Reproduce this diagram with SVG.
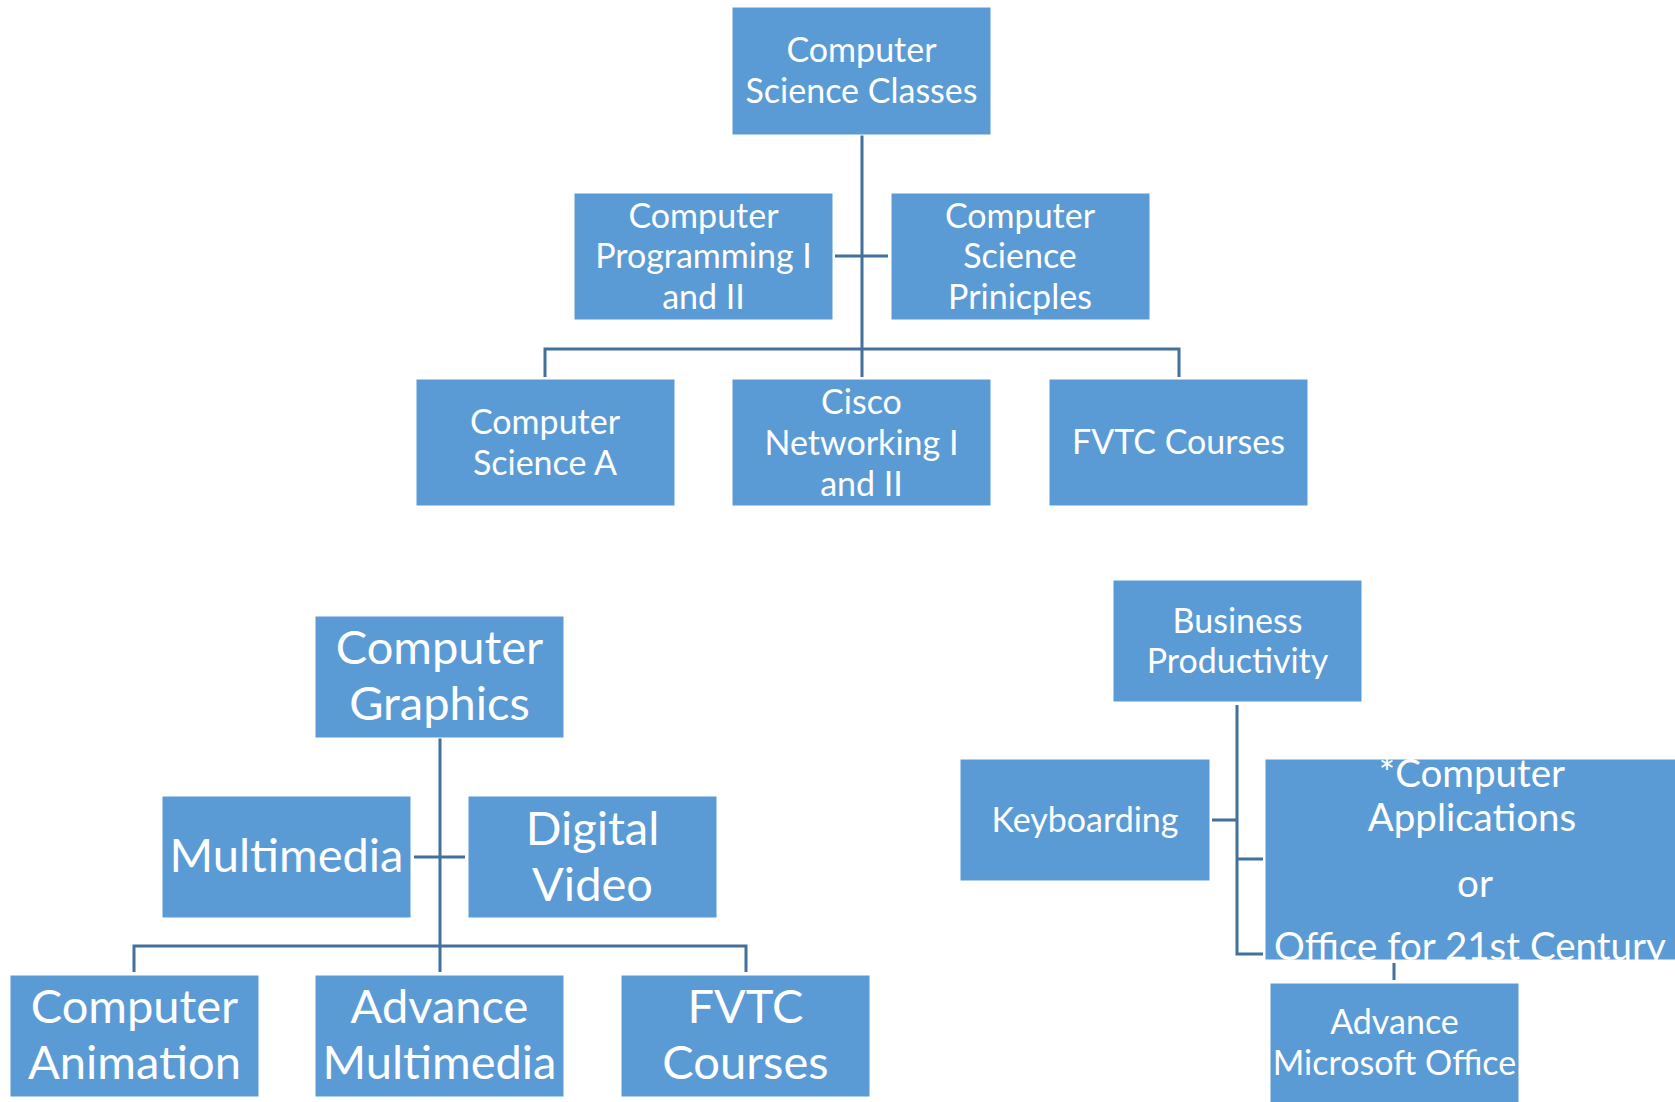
<svg xmlns="http://www.w3.org/2000/svg" width="1675" height="1102" viewBox="0 0 1675 1102">
<style>
.box{fill:#5B9BD5;stroke:#FFFFFF;stroke-width:1}
.t{fill:#FFFFFF;font-family:Lato,"Liberation Sans",sans-serif;text-anchor:middle}
.s{font-size:34px}
.m{font-size:38.5px}
.l{font-size:47px}
.c{fill:none;stroke:#41719C;stroke-width:3}
</style>
<rect x="0" y="0" width="1675" height="1102" fill="#FFFFFF"/>
<g id="connectors">
<path class="c" d="M862 135V377M835 256H888M545 377V349H1179V377"/>
<path class="c" d="M440 738V972M414 857H465M134 972V946H746V972"/>
<path class="c" d="M1237 705V954H1263M1212 820H1237M1237 859H1263M1394 963V980"/>
</g>
<g id="n-csc"><rect class="box" x="732" y="7" width="259" height="128"/><text class="t s" x="861.5" y="62">Computer</text><text class="t s" x="861.5" y="103">Science Classes</text></g>
<g id="n-cp"><rect class="box" x="574" y="193" width="259" height="127"/><text class="t s" x="703.5" y="228">Computer</text><text class="t s" x="703.5" y="268">Programming I</text><text class="t s" x="703.5" y="309">and II</text></g>
<g id="n-csp"><rect class="box" x="891" y="193" width="259" height="127"/><text class="t s" x="1020" y="228">Computer</text><text class="t s" x="1020" y="268">Science</text><text class="t s" x="1020" y="309">Prinicples</text></g>
<g id="n-csa"><rect class="box" x="416" y="379" width="259" height="127"/><text class="t s" x="545" y="434">Computer</text><text class="t s" x="545" y="475">Science A</text></g>
<g id="n-cisco"><rect class="box" x="732" y="379" width="259" height="127"/><text class="t s" x="861.5" y="414">Cisco</text><text class="t s" x="861.5" y="455">Networking I</text><text class="t s" x="861.5" y="496">and II</text></g>
<g id="n-fvtc1"><rect class="box" x="1049" y="379" width="259" height="127"/><text class="t s" x="1178.5" y="454">FVTC Courses</text></g>
<g id="n-cg"><rect class="box" x="315" y="616" width="249" height="122"/><text class="t l" x="439.5" y="664">Computer</text><text class="t l" x="439.5" y="720">Graphics</text></g>
<g id="n-mm"><rect class="box" x="162" y="796" width="249" height="122"/><text class="t l" x="286.5" y="872">Multimedia</text></g>
<g id="n-dv"><rect class="box" x="468" y="796" width="249" height="122"/><text class="t l" x="592.5" y="845">Digital</text><text class="t l" x="592.5" y="901">Video</text></g>
<g id="n-ca"><rect class="box" x="10" y="975" width="249" height="122"/><text class="t l" x="134.5" y="1023">Computer</text><text class="t l" x="134.5" y="1079">Animation</text></g>
<g id="n-am"><rect class="box" x="315" y="975" width="249" height="122"/><text class="t l" x="439.5" y="1023">Advance</text><text class="t l" x="439.5" y="1079">Multimedia</text></g>
<g id="n-fvtc2"><rect class="box" x="621" y="975" width="249" height="122"/><text class="t l" x="745.5" y="1023">FVTC</text><text class="t l" x="745.5" y="1079">Courses</text></g>
<g id="n-bp"><rect class="box" x="1113" y="580" width="249" height="122"/><text class="t s" x="1237.5" y="633">Business</text><text class="t s" x="1237.5" y="673">Productivity</text></g>
<g id="n-kb"><rect class="box" x="960" y="759" width="250" height="122"/><text class="t s" x="1085" y="832">Keyboarding</text></g>
<g id="n-capp"><rect class="box" x="1265" y="759" width="420" height="201"/><text class="t m" x="1472" y="787">*Computer</text><text class="t m" x="1472" y="831">Applications</text><text class="t m" x="1475" y="897">or</text><text class="t m" x="1470" y="960">Office for 21st Century</text></g>
<g id="n-amo"><rect class="box" x="1270" y="983" width="249" height="125"/><text class="t s" x="1394.5" y="1034">Advance</text><text class="t s" x="1394.5" y="1075">Microsoft Office</text></g>
</svg>
